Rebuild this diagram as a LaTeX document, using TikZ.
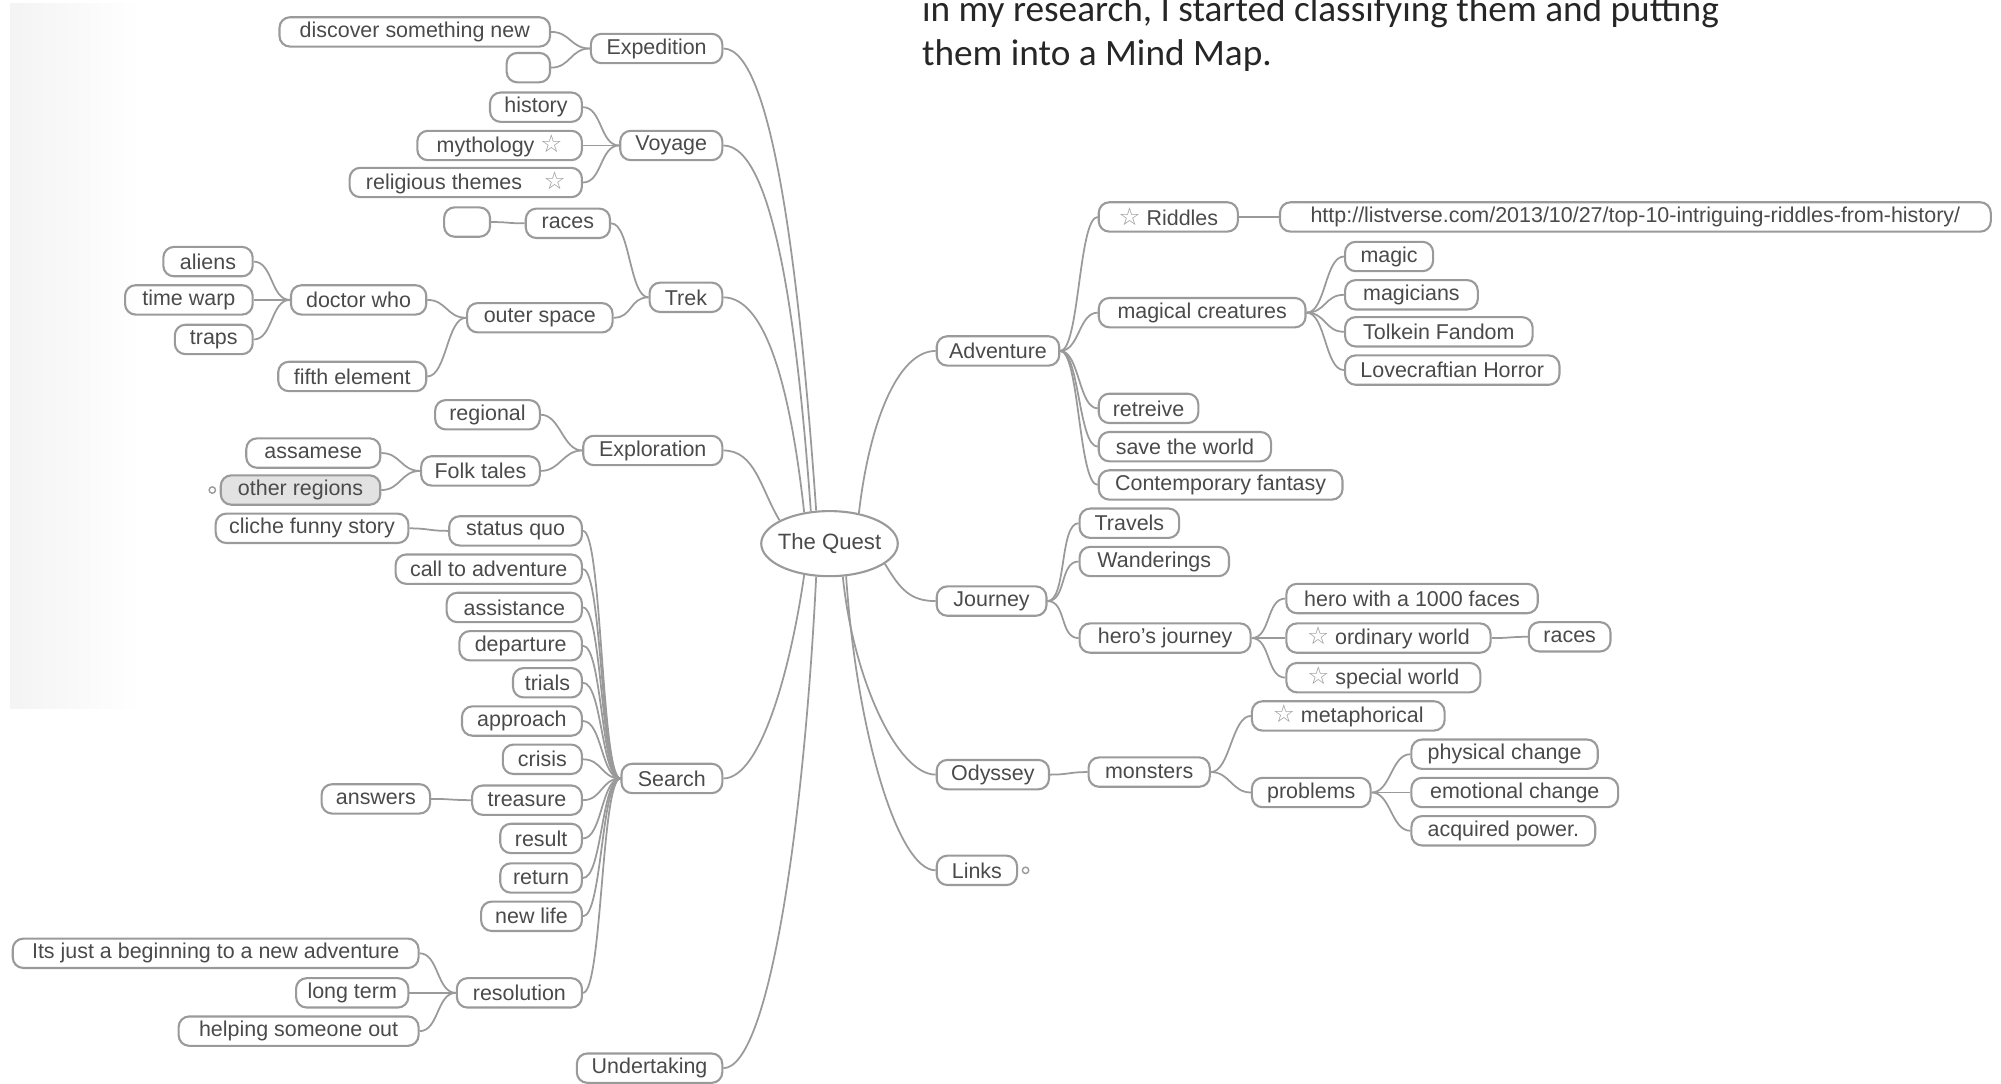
\documentclass[tikz,border=0pt]{standalone}
\usepackage{fontspec}
\setmainfont{Liberation Sans}
\newfontfamily\notefont{Carlito}
\newfontfamily\symbolfont{DejaVu Sans}
\definecolor{mapline}{HTML}{9A9A9A}
\definecolor{maptext}{HTML}{4A4A4A}
\definecolor{selectbg}{HTML}{E2E2E2}
\usetikzlibrary{shapes.geometric, positioning}
\newcommand{\favstar}{{\symbolfont\fontsize{7}{7}\selectfont\textcolor{mapline}{☆}}}

\tikzset{
  topic/.style={draw=mapline, rounded corners=3pt, line width=0.6pt, text=maptext,
    font=\fontsize{6.1}{7}\selectfont, minimum height=23*0.01276cm,
    inner xsep=2pt, inner ysep=1pt},
  wd/.style={minimum width=#1*0.01276cm},
  hub/.style={ellipse, draw=mapline, line width=0.6pt, text=maptext,
    font=\fontsize{6.3}{7}\selectfont, inner xsep=-1pt, inner ysep=0pt,
    minimum width=107*0.01276cm, minimum height=51*0.01276cm},
  link/.style={draw=mapline, line width=0.5pt},
  knob/.style={circle, draw=mapline, line width=0.4pt, minimum size=5*0.01276cm, inner sep=0pt}
}

\begin{document}
\begin{tikzpicture}[x=0.01276cm, y=-0.01276cm]
  \useasboundingbox (0,0) rectangle (1568,849);
  % faded strip of the scan
  \fill[left color=gray!9, right color=white] (8,3) rectangle (110,555);

  % note above the map
  \node[anchor=base west, inner sep=0pt, text=black!85,
        font=\notefont\fontsize{10.6}{12}\selectfont] (noteA) at (722,17)
        {in my research, I started classifying them and putting};
  \node[anchor=base west, inner sep=0pt, text=black!85,
        font=\notefont\fontsize{10.6}{12}\selectfont] (noteB) at (722,51)
        {them into a Mind Map.};

  \node[hub] (quest) at (650,426) {The Quest};

  % left half
  \node[topic, wd=103] (expedition) at (514.5,38) {Expedition};
  \node[topic, wd=212] (discover) at (325,25) {discover something new};
  \node[topic, wd=34] (blankA) at (414,53) {};
  \node[topic, wd=80] (voyage) at (526,114) {Voyage};
  \node[topic, wd=72] (history) at (420,84) {history};
  \node[topic, wd=129] (mythology) at (391.5,114) {mythology \favstar};
  \node[topic, wd=182] (religious) at (365,143) {religious themes\quad\favstar};
  \node[topic, wd=57] (trek) at (537.5,233) {Trek};
  \node[topic, wd=66] (racesL) at (445,175) {races};
  \node[topic, wd=36] (blankB) at (366,174) {};
  \node[topic, wd=114] (outerspace) at (423,249) {outer space};
  \node[topic, wd=106] (doctorwho) at (281,235) {doctor who};
  \node[topic, wd=70] (aliens) at (163,205) {aliens};
  \node[topic, wd=100] (timewarp) at (148,235) {time warp};
  \node[topic, wd=61] (traps) at (167.5,266) {traps};
  \node[topic, wd=116] (fifth) at (276,295) {fifth element};
  \node[topic, wd=109] (exploration) at (511.5,353) {Exploration};
  \node[topic, wd=82] (regional) at (382,325) {regional};
  \node[topic, wd=93] (folktales) at (376.5,369) {Folk tales};
  \node[topic, wd=105] (assamese) at (245.5,355) {assamese};
  \node[topic, wd=125, fill=selectbg] (otherregions) at (235.5,384) {other regions};
  \node[knob, left=1pt of otherregions] (otherknob) {};
  \node[topic, wd=79] (search) at (526.5,610) {Search};
  \node[topic, wd=104] (statusquo) at (404,416) {status quo};
  \node[topic, wd=151] (cliche) at (244.5,414) {cliche funny story};
  \node[topic, wd=146] (calltoadv) at (383,446) {call to adventure};
  \node[topic, wd=106] (assistance) at (403,476) {assistance};
  \node[topic, wd=96] (departure) at (408,506) {departure};
  \node[topic, wd=54] (trials) at (429,535) {trials};
  \node[topic, wd=94] (approach) at (409,565) {approach};
  \node[topic, wd=62] (crisis) at (425,595) {crisis};
  \node[topic, wd=86] (treasure) at (413,627) {treasure};
  \node[topic, wd=85] (answers) at (294.5,626) {answers};
  \node[topic, wd=64] (result) at (424,657) {result};
  \node[topic, wd=64] (return) at (424,688) {return};
  \node[topic, wd=79] (newlife) at (416.5,718) {new life};
  \node[topic, wd=98] (resolution) at (407,778) {resolution};
  \node[topic, wd=318] (beginning) at (169,747) {Its just a beginning to a new adventure};
  \node[topic, wd=88] (longterm) at (276,778) {long term};
  \node[topic, wd=188] (helping) at (234,808) {helping someone out};
  \node[topic, wd=114] (undertaking) at (509,837) {Undertaking};

  % right half
  \node[topic, wd=96] (adventure) at (782,275) {Adventure};
  \node[topic, wd=109] (riddles) at (915.5,170) {\favstar\ Riddles};
  \node[topic, wd=557] (url) at (1281.5,170) {http://listverse.com/2013/10/27/top-10-intriguing-riddles-from-history/};
  \node[topic, wd=162] (magical) at (942,245) {magical creatures};
  \node[topic, wd=69] (magic) at (1088.5,201) {magic};
  \node[topic, wd=104] (magicians) at (1106,231) {magicians};
  \node[topic, wd=147] (tolkein) at (1127.5,260) {Tolkein Fandom};
  \node[topic, wd=168] (lovecraft) at (1138,290) {Lovecraftian Horror};
  \node[topic, wd=78] (retreive) at (900,320) {retreive};
  \node[topic, wd=135] (savetheworld) at (928.5,350) {save the world};
  \node[topic, wd=191] (contemporary) at (956.5,380) {Contemporary fantasy};
  \node[topic, wd=86] (journey) at (777,471) {Journey};
  \node[topic, wd=78] (travels) at (885,410) {Travels};
  \node[topic, wd=117] (wanderings) at (904.5,440) {Wanderings};
  \node[topic, wd=134] (herosjourney) at (913,500) {hero's journey};
  \node[topic, wd=197] (hero1000) at (1106.5,469) {hero with a 1000 faces};
  \node[topic, wd=160] (ordinary) at (1088,500) {\favstar\ ordinary world};
  \node[topic, wd=64] (racesR) at (1230,499) {races};
  \node[topic, wd=152] (special) at (1084,531) {\favstar\ special world};
  \node[topic, wd=88] (odyssey) at (778,607) {Odyssey};
  \node[topic, wd=95] (monsters) at (900.5,605) {monsters};
  \node[topic, wd=151] (metaphorical) at (1056.5,561) {\favstar\ metaphorical};
  \node[topic, wd=93] (problems) at (1027.5,621) {problems};
  \node[topic, wd=146] (physical) at (1179,591) {physical change};
  \node[topic, wd=162] (emotional) at (1187,621) {emotional change};
  \node[topic, wd=144] (acquired) at (1178,651) {acquired power.};
  \node[topic, wd=63] (links) at (765.5,682) {Links};
  \node[knob, right=1pt of links] (linksknob) {};

  % main branches
  \draw[link] (quest.112) .. controls +(-12,-170) and +(40,0) .. (expedition.east);
  \draw[link] (quest.120) .. controls +(-10,-140) and +(40,0) .. (voyage.east);
  \draw[link] (quest.129) .. controls +(-10,-90) and +(35,0) .. (trek.east);
  \draw[link] (quest.155) .. controls +(-15,-25) and +(25,0) .. (exploration.east);
  \draw[link] (quest.231) .. controls +(-10,70) and +(30,0) .. (search.east);
  \draw[link] (quest.248) .. controls +(-10,200) and +(35,0) .. (undertaking.east);
  \draw[link] (quest.46) .. controls +(8,-70) and +(-30,0) .. (adventure.west);
  \draw[link] (quest.340) .. controls +(12,20) and +(-20,0) .. (journey.west);
  \draw[link] (quest.292) .. controls +(8,80) and +(-30,0) .. (odyssey.west);
  \draw[link] (quest.297) .. controls +(8,120) and +(-30,0) .. (links.west);

  % sub branches, left
  \foreach \a/\b in {expedition/discover, expedition/blankA, voyage/history,
      voyage/mythology, voyage/religious, trek/racesL, trek/outerspace,
      racesL/blankB, outerspace/doctorwho, outerspace/fifth, doctorwho/aliens,
      doctorwho/timewarp, doctorwho/traps, exploration/regional,
      exploration/folktales, folktales/assamese, folktales/otherregions,
      search/statusquo, search/calltoadv, search/assistance, search/departure,
      search/trials, search/approach, search/crisis, search/treasure,
      search/result, search/return, search/newlife, search/resolution,
      statusquo/cliche, treasure/answers, resolution/beginning,
      resolution/longterm, resolution/helping}
    \draw[link] (\a.west) .. controls +(-15,0) and +(15,0) .. (\b.east);

  % sub branches, right
  \foreach \a/\b in {adventure/riddles, adventure/magical, adventure/retreive,
      adventure/savetheworld, adventure/contemporary, riddles/url,
      magical/magic, magical/magicians, magical/tolkein, magical/lovecraft,
      journey/travels, journey/wanderings, journey/herosjourney,
      herosjourney/hero1000, herosjourney/ordinary, herosjourney/special,
      ordinary/racesR, odyssey/monsters, monsters/metaphorical,
      monsters/problems, problems/physical, problems/emotional,
      problems/acquired}
    \draw[link] (\a.east) .. controls +(15,0) and +(-15,0) .. (\b.west);
\end{tikzpicture}
\end{document}
